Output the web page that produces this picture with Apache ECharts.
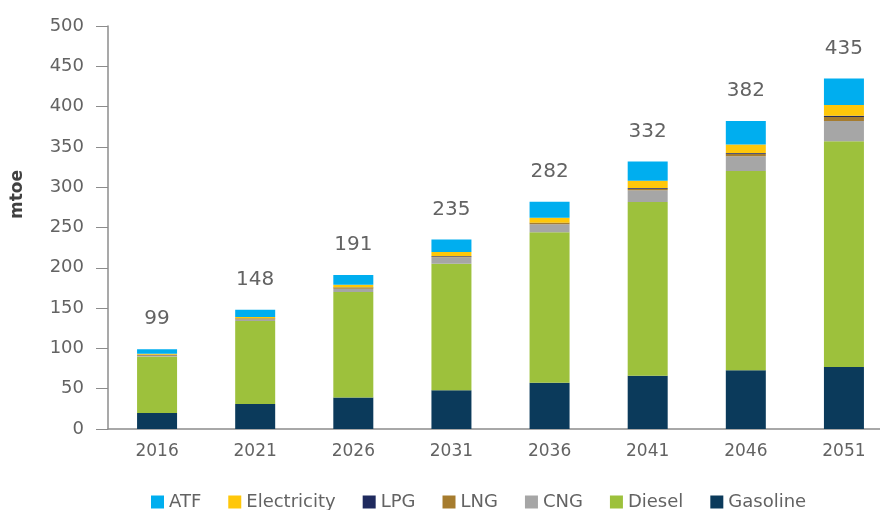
<!DOCTYPE html>
<html>
<head>
<meta charset="utf-8">
<script src="https://cdn.jsdelivr.net/npm/echarts@6/dist/echarts.min.js"></script>
<style>html,body{margin:0;padding:0;background:#fff;overflow:hidden;width:880px;height:510px;}#c{width:900px;height:520px;}</style>
</head>
<body>
<div id="c"></div>
<script>
const years = ['2016','2021','2026','2031','2036','2041','2046','2051'];
const gasoline    = [20, 31, 39, 48, 57.5, 66, 73, 77];
const diesel      = [70, 103, 131, 157, 186.5, 215.7, 247, 280];
const cng         = [1, 2, 4, 8, 10, 14.5, 18.5, 25];
const lng         = [0.5, 0.5, 1, 1, 1.5, 2, 3, 5];
const lpg         = [0.5, 0.5, 0.5, 0.5, 0.5, 0.8, 1, 1.5];
const electricity = [1.5, 2, 3.5, 5, 6, 9, 10.5, 13.5];
const atf         = [5.5, 9, 12, 15.5, 20, 24, 29, 33];
const totals      = [99, 148, 191, 235, 282, 332, 382, 435];
const yTicks = [0, 50, 100, 150, 200, 250, 300, 350, 400, 450, 500];

const FONT = '"DejaVu Sans", sans-serif';
const TXT = '#636363';

function mk(name, data, color, extra) {
  return Object.assign({
    name: name, type: 'bar', stack: 'total', data: data, barWidth: 40,
    itemStyle: { color: color }
  }, extra || {});
}

const chart = echarts.init(document.getElementById('c'));
chart.setOption({
  animation: false,
  textStyle: { fontFamily: FONT },
  grid: { left: 108, width: 785, top: 26, height: 403, containLabel: false },
  legend: {
    top: 488, left: 146,
    data: ['ATF', 'Electricity', 'LPG', 'LNG', 'CNG', 'Diesel', 'Gasoline'],
    icon: 'rect', itemWidth: 13, itemHeight: 13, itemGap: 27,
    textStyle: { color: TXT, fontSize: 18, fontFamily: FONT }
  },
  graphic: [{
    type: 'text', left: 9, top: 170, rotation: Math.PI / 2,
    style: { text: 'mtoe', fill: '#404040', font: 'bold 17px ' + FONT }
  }],
  xAxis: {
    type: 'category', data: years,
    axisLine: { lineStyle: { color: '#8c8c8c', width: 1.5 } },
    axisTick: { show: false },
    axisLabel: { color: TXT, fontSize: 17, margin: 14, fontFamily: FONT }
  },
  yAxis: {
    type: 'value', min: yTicks[0], max: yTicks[yTicks.length - 1], interval: 50,
    axisLine: { show: true, lineStyle: { color: '#8c8c8c', width: 1.5 } },
    axisTick: { show: true, length: 12, lineStyle: { color: '#8c8c8c' } },
    splitLine: { show: false },
    axisLabel: { color: TXT, fontSize: 18, margin: 24, fontFamily: FONT }
  },
  series: [
    mk('Gasoline', gasoline, '#0B3A5B'),
    mk('Diesel', diesel, '#9DC13C'),
    mk('CNG', cng, '#A6A6A6'),
    mk('LNG', lng, '#A67C2E'),
    mk('LPG', lpg, '#1F2A5E'),
    mk('Electricity', electricity, '#FFC70A'),
    mk('ATF', atf, '#00AEEF', {
      label: {
        show: true, position: 'top', distance: 20,
        color: TXT, fontSize: 20, fontFamily: FONT,
        formatter: p => String(totals[p.dataIndex])
      }
    })
  ]
});
</script>
</body>
</html>
